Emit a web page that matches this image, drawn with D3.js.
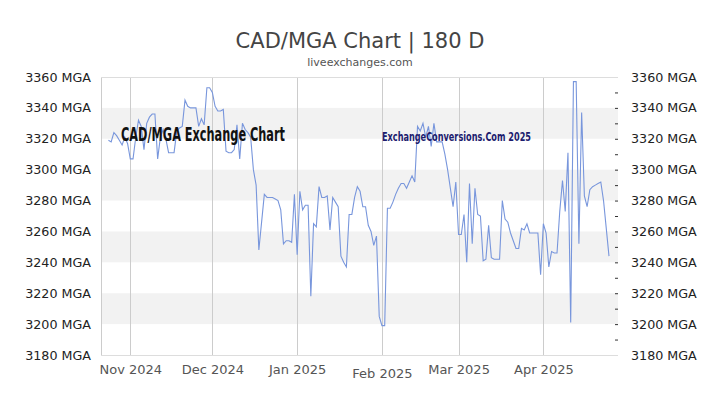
<!DOCTYPE html>
<html><head><meta charset="utf-8">
<script src="https://cdn.jsdelivr.net/npm/d3@7/dist/d3.min.js"></script>
<style>html,body{margin:0;padding:0;background:#fff;}svg{display:block;}</style>
</head><body>
<svg id="chart" width="720" height="405"></svg>
<script>
const dates = [
"2024-10-24","2024-10-25","2024-10-26","2024-10-27","2024-10-28","2024-10-29","2024-10-30","2024-10-31",
"2024-11-01","2024-11-02","2024-11-03","2024-11-04","2024-11-05","2024-11-06","2024-11-07","2024-11-08","2024-11-09","2024-11-10",
"2024-11-11","2024-11-12","2024-11-13","2024-11-14","2024-11-15","2024-11-16","2024-11-17","2024-11-18","2024-11-19","2024-11-20",
"2024-11-21","2024-11-22","2024-11-23","2024-11-24","2024-11-25","2024-11-26","2024-11-27","2024-11-28","2024-11-29","2024-11-30",
"2024-12-01","2024-12-02","2024-12-03","2024-12-04","2024-12-05","2024-12-06","2024-12-07","2024-12-08","2024-12-09","2024-12-10",
"2024-12-11","2024-12-12","2024-12-13","2024-12-14","2024-12-15","2024-12-16","2024-12-17","2024-12-18","2024-12-19","2024-12-20",
"2024-12-21","2024-12-22","2024-12-23","2024-12-24","2024-12-25","2024-12-26","2024-12-27","2024-12-28","2024-12-29","2024-12-30","2024-12-31",
"2025-01-01","2025-01-02","2025-01-03","2025-01-04","2025-01-05","2025-01-06","2025-01-07","2025-01-08","2025-01-09","2025-01-10",
"2025-01-11","2025-01-12","2025-01-13","2025-01-14","2025-01-15","2025-01-16","2025-01-17","2025-01-18","2025-01-19","2025-01-20",
"2025-01-21","2025-01-22","2025-01-23","2025-01-24","2025-01-25","2025-01-26","2025-01-27","2025-01-28","2025-01-29","2025-01-30","2025-01-31",
"2025-02-01","2025-02-02","2025-02-03","2025-02-04","2025-02-05","2025-02-06","2025-02-07","2025-02-08","2025-02-09","2025-02-10",
"2025-02-11","2025-02-12","2025-02-13","2025-02-14","2025-02-15","2025-02-16","2025-02-17","2025-02-18","2025-02-19","2025-02-20",
"2025-02-21","2025-02-22","2025-02-23","2025-02-24","2025-02-25","2025-02-26","2025-02-27","2025-02-28",
"2025-03-01","2025-03-02","2025-03-03","2025-03-04","2025-03-05","2025-03-06","2025-03-07","2025-03-08","2025-03-09","2025-03-10",
"2025-03-11","2025-03-12","2025-03-13","2025-03-14","2025-03-15","2025-03-16","2025-03-17","2025-03-18","2025-03-19","2025-03-20",
"2025-03-21","2025-03-22","2025-03-23","2025-03-24","2025-03-25","2025-03-26","2025-03-27","2025-03-28","2025-03-29","2025-03-30","2025-03-31",
"2025-04-01","2025-04-02","2025-04-03","2025-04-04","2025-04-05","2025-04-06","2025-04-07","2025-04-08","2025-04-09","2025-04-10",
"2025-04-11","2025-04-12","2025-04-13","2025-04-14","2025-04-15","2025-04-16","2025-04-17","2025-04-18","2025-04-19","2025-04-20",
"2025-04-21","2025-04-22","2025-04-23","2025-04-24","2025-04-25"
];
const rates = [
3319,3318,3324,3322,3319,3316,3321,3317,
3307,3307,3321,3332,3328,3313,3330,3334,3336,3336,
3307,3321,3326,3320,3311,3311,3311,3325,3327,3328,
3345,3341,3340,3340,3340,3328,3333,3329,3353,3353,
3350,3341,3338,3338,3339,3312,3311,3311,3313,3329,
3307,3330,3326,3324,3321,3300,3290,3248,3266,3284,
3282,3282,3282,3281,3280,3274,3252,3254,3254,3253,3284,
3245,3286,3274,3277,3277,3218,3265,3263,3289,3282,
3282,3283,3261,3282,3279,3276,3244,3240,3237,3271,
3271,3282,3289,3286,3276,3276,3264,3260,3251,3257,3205,
3199,3199,3275,3275,3279,3284,3288,3291,3291,3288,
3292,3296,3292,3328,3325,3330,3321,3328,3315,3330,
3318,3318,3318,3310,3300,3288,3276,3292,
3258,3258,3271,3240,3291,3252,3288,3271,3270,3241,
3242,3264,3243,3242,3242,3242,3280,3268,3266,3259,
3254,3249,3249,3262,3261,3265,3259,3259,3259,3259,3232,
3265,3259,3237,3247,3246,3246,3273,3293,3273,3311,
3201,3357,3357,3252,3337,3283,3276,3287,3289,3290,
3291,3292,3280,3262,3244
];
const yTicks = [3180,3200,3220,3240,3260,3280,3300,3320,3340,3360];
const bandStarts = [3200,3240,3280,3320];
const monthTicks = ["2024-11-01","2024-12-01","2025-01-01","2025-02-01","2025-03-01","2025-04-01"];
const titleText = "CAD/MGA Chart | 180 D";
const subtitleText = "liveexchanges.com";
const watermark1 = "CAD/MGA Exchange Chart";
const watermark2 = "ExchangeConversions.Com 2025";
const unit = "MGA";

const parse = d3.utcParse("%Y-%m-%d");
const data = dates.map((d,i)=>({date:parse(d), value:rates[i]}));

const L = 101, R = 618, T = 77, B = 355;
const x = d3.scaleUtc()
  .domain([new Date(Date.UTC(2024,9,21,7)), new Date(Date.UTC(2025,3,28,7))])
  .range([L, R]);
const y = d3.scaleLinear().domain([3180,3360]).range([B, T]);

const svg = d3.select("#chart");
const font = "'DejaVu Sans', sans-serif";

// bands
svg.append("g").selectAll("rect").data(bandStarts).join("rect")
  .attr("x", L).attr("width", R - L)
  .attr("y", d => y(d + 20)).attr("height", d => y(d) - y(d + 20))
  .attr("fill", "#f2f2f2");

// month gridlines + labels
const xAxis = d3.axisBottom(x)
  .tickValues(monthTicks.map(parse))
  .tickSize(-(B - T))
  .tickFormat(d3.utcFormat("%b %Y"));
const gx = svg.append("g").attr("transform", `translate(0,${B})`).call(xAxis);
gx.select(".domain").remove();
gx.selectAll(".tick line").attr("stroke", "#cccccc").attr("shape-rendering","crispEdges");
gx.selectAll(".tick text")
  .attr("font-family", font).attr("font-size", "13px").attr("fill", "#555")
  .attr("y", 7)
  .attr("dy", d => d.getUTCMonth() === 1 ? "1.2em" : "0.95em");

// frame
svg.append("line").attr("x1", L+0.5).attr("x2", L+0.5).attr("y1", T).attr("y2", B)
  .attr("stroke", "#cccccc");
svg.append("line").attr("x1", L).attr("x2", R).attr("y1", B+0.5).attr("y2", B+0.5)
  .attr("stroke", "#dddddd");
svg.append("line").attr("x1", L).attr("x2", R).attr("y1", T+0.5).attr("y2", T+0.5)
  .attr("stroke", "#dddddd");

// left axis labels
const fmt = d => d + " " + unit;
const yl = svg.append("g").attr("transform", `translate(${L},0)`)
  .call(d3.axisLeft(y).tickValues(yTicks).tickSize(0).tickPadding(10).tickFormat(fmt));
yl.select(".domain").remove();
yl.selectAll("text").attr("font-family", font).attr("font-size", "12.7px").attr("fill", "#222");

// right axis small ticks
const yrTicks = svg.append("g").attr("transform", `translate(${R-3},0)`)
  .call(d3.axisRight(y).tickValues(d3.range(3190, 3351, 10)).tickSize(3).tickFormat(""));
yrTicks.select(".domain").remove();
yrTicks.selectAll("line").attr("stroke", "#333");

// right axis labels
const yr = svg.append("g").attr("transform", `translate(${R},0)`)
  .call(d3.axisRight(y).tickValues(yTicks).tickSize(0).tickPadding(13).tickFormat(fmt));
yr.select(".domain").remove();
yr.selectAll("text").attr("font-family", font).attr("font-size", "12.7px").attr("fill", "#222");

// line
const line = d3.line().x(d => x(d.date)).y(d => y(d.value));
svg.append("path").datum(data).attr("d", line)
  .attr("fill", "none").attr("stroke", "#7896dc").attr("stroke-width", 1.1);

// watermarks
svg.append("text").text(watermark1)
  .attr("x", 121).attr("y", 141)
  .attr("font-family", "'Liberation Sans Narrow','DejaVu Sans Condensed',sans-serif")
  .attr("font-weight", "bold").attr("font-size", "19px").attr("fill", "#111")
  .attr("textLength", 164).attr("lengthAdjust", "spacingAndGlyphs");
svg.append("text").text(watermark2)
  .attr("x", 382).attr("y", 140.5)
  .attr("font-family", "'Liberation Sans Narrow','DejaVu Sans Condensed',sans-serif")
  .attr("font-weight", "bold").attr("font-size", "12.5px").attr("fill", "#1c1c6e")
  .attr("textLength", 149).attr("lengthAdjust", "spacingAndGlyphs");

// title
svg.append("text").text(titleText)
  .attr("x", 360).attr("y", 48).attr("text-anchor", "middle")
  .attr("font-family", font).attr("font-size", "21px").attr("fill", "#444");
svg.append("text").text(subtitleText)
  .attr("x", 360).attr("y", 66).attr("text-anchor", "middle")
  .attr("font-family", font).attr("font-size", "11px").attr("fill", "#555");
</script>
</body></html>
